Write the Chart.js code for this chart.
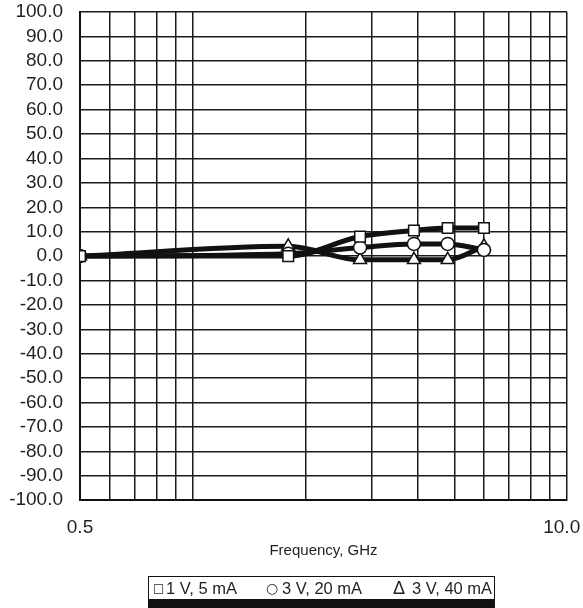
<!DOCTYPE html>
<html>
<head>
<meta charset="utf-8">
<script src="https://cdn.jsdelivr.net/npm/chart.js@4/dist/chart.umd.min.js"></script>
<style>
  body { margin: 0; background: #fff; }
  #wrap { position: relative; width: 583px; height: 608px; }
  #legend {
    position: absolute; left: 148px; top: 576px; width: 347px; height: 32px;
    box-sizing: border-box; border: 1.5px solid #111; border-bottom: 9px solid #111;
    font-family: "Liberation Sans", Arial, sans-serif; font-size: 16.5px; color: #231f20;
  }
  #legend span { position: absolute; top: 2px; line-height: 19px; white-space: nowrap; }
</style>
</head>
<body>
<div id="wrap">
  <canvas id="myChart" width="583" height="608"></canvas>
  <div id="legend">
    <span style="left:4px;font-family:'DejaVu Sans';font-size:12px">□</span>
    <span style="left:17px">1 V, 5 mA</span>
    <span style="left:117px;font-family:'DejaVu Sans';font-size:14px">○</span>
    <span style="left:133px">3 V, 20 mA</span>
    <span style="left:244px;font-size:18px">Δ</span>
    <span style="left:263px">3 V, 40 mA</span>
  </div>
</div>
<script>
//data
const freq_ghz = [0.5, 1.8, 2.8, 3.9, 4.8, 6.0];
const v1_5ma = [0, 0, 8, 10.5, 11.5, 11.5];
const v3_20ma = [0, 1, 3.5, 5, 5, 2.5];
const v3_40ma = [0, 4, -1.5, -1.5, -1.5, 4];
const series_labels = ['1 V, 5 mA', '3 V, 20 mA', '3 V, 40 mA'];
const x_grid_ticks = [0.5, 0.6, 0.7, 0.8, 0.9, 1, 2, 3, 4, 5, 6, 7, 8, 9, 10];
// trailing spaces pull the last label in from the edge, like the original
const x_tick_labels = {0.5: '0.5', 10: '10.0\u00a0\u00a0'};
const y_ticks = [-100, -90, -80, -70, -60, -50, -40, -30, -20, -10, 0, 10, 20, 30, 40, 50, 60, 70, 80, 90, 100];

const ink = '#231f20';

function to_points(values){
    let pts = [];
    for (let i = 0; i < freq_ghz.length; i++){
        pts.push({x: freq_ghz[i], y: values[i]});
    }
    return pts;
}
function make_dataset(label, values, style, radius){
    return {
        label: label,
        data: to_points(values),
        borderColor: '#111',
        borderWidth: 5,
        cubicInterpolationMode: 'monotone',
        pointStyle: style,
        pointRadius: radius,
        pointBackgroundColor: '#fff',
        pointBorderColor: '#111',
        pointBorderWidth: 1.5,
    };
}

const ctx = document.getElementById('myChart').getContext('2d');
const myChart = new Chart(ctx, {
    type: 'line',
    data: {
        datasets: [
            make_dataset(series_labels[0], v1_5ma, 'rect', 7.5),
            make_dataset(series_labels[1], v3_20ma, 'circle', 6.5),
            make_dataset(series_labels[2], v3_40ma, 'triangle', 7.5),
        ]
    },
    options: {
        responsive: false,
        animation: false,
        layout: { padding: { left: 9, top: 12, right: 16, bottom: 48 } },
        plugins: { legend: { display: false }, tooltip: { enabled: false } },
        scales: {
            x: {
                type: 'logarithmic',
                min: 0.5,
                max: 10,
                afterBuildTicks: function(axis){
                    axis.ticks = x_grid_ticks.map(v => ({value: v}));
                },
                afterFit: function(axis){
                    axis.paddingLeft = 0;
                    axis.paddingRight = 0;
                },
                ticks: {
                    autoSkip: false,
                    maxRotation: 0,
                    padding: 16,
                    color: ink,
                    font: { family: 'Liberation Sans', size: 19 },
                    callback: function(value){
                        return x_tick_labels[value] || '';
                    }
                },
                grid: { color: '#1a1a1a', lineWidth: 1.5, drawTicks: false },
                border: { color: '#111', width: 2 },
                title: {
                    display: true,
                    text: 'Frequency, GHz',
                    color: ink,
                    font: { family: 'Liberation Sans', size: 15 },
                    padding: { top: -13, bottom: 0 }
                }
            },
            y: {
                min: -100,
                max: 100,
                afterBuildTicks: function(axis){
                    axis.ticks = y_ticks.map(v => ({value: v}));
                },
                afterFit: function(axis){
                    axis.width = 71;
                    axis.paddingTop = 0;
                    axis.paddingBottom = 0;
                },
                ticks: {
                    autoSkip: false,
                    padding: 17,
                    color: ink,
                    font: { family: 'Liberation Sans', size: 19 },
                    callback: function(value){
                        return value.toFixed(1);
                    }
                },
                grid: { color: '#1a1a1a', lineWidth: 1.5, drawTicks: false },
                border: { color: '#111', width: 2 }
            }
        }
    }
});
</script>
</body>
</html>
